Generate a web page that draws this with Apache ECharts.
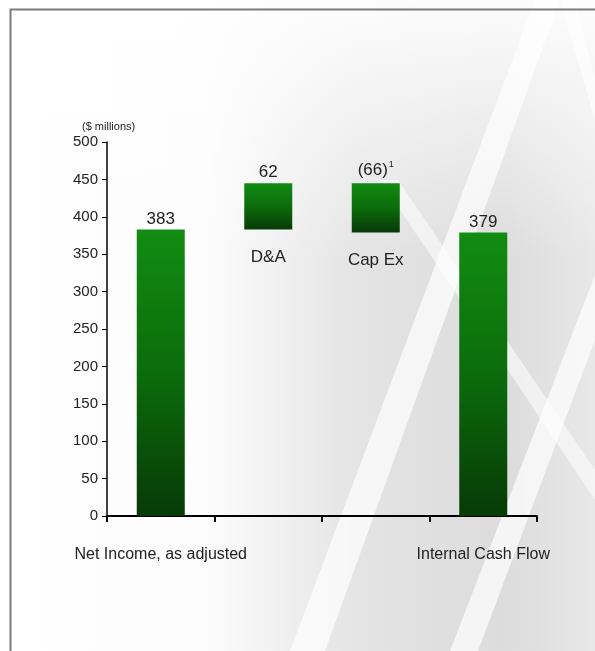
<!DOCTYPE html>
<html>
<head>
<meta charset="utf-8">
<script src="https://cdn.jsdelivr.net/npm/echarts@6/dist/echarts.min.js"></script>
<style>
html,body{margin:0;padding:0;background:#fff;}
#c{width:595px;height:651px;}
</style>
</head>
<body>
<div id="c"></div>
<script>
var categories = ['Net Income, as adjusted', 'D&A', 'Cap Ex', 'Internal Cash Flow'];
var values = [383, 62, -66, 379];
var valueLabels = ['383', '62', '(66)', '379'];
var footnotes = ['', '', '1', ''];
var floatLabels = ['', 'D&A', 'Cap Ex', ''];
var yTicks = [0, 50, 100, 150, 200, 250, 300, 350, 400, 450, 500];

// waterfall: compute invisible base and visible height
var running = 0, baseData = [], barData = [];
values.forEach(function (v, i) {
  if (i === 0 || i === values.length - 1) {
    baseData.push(0); barData.push(Math.abs(v)); running = v;
  } else if (v >= 0) {
    baseData.push(running); barData.push(v); running += v;
  } else {
    running += v; baseData.push(running); barData.push(-v);
  }
});

var FONT = 'Liberation Sans, Arial, sans-serif';
var chart = echarts.init(document.getElementById('c'), null, {renderer: 'canvas'});

var grad = new echarts.graphic.LinearGradient(0, 0, 0, 1, [
  {offset: 0, color: '#128c12'},
  {offset: 0.5, color: '#0b6c0b'},
  {offset: 1, color: '#073a07'}
]);

chart.setOption({
  animation: false,
  backgroundColor: '#ffffff',
  graphic: [
    {type: 'rect', z: -10, shape: {x: 0, y: 0, width: 595, height: 651},
      style: {fill: new echarts.graphic.LinearGradient(0, 0, 1, 0, [
        {offset: 0, color: '#ffffff'}, {offset: 0.35, color: '#fcfcfc'},
        {offset: 0.6, color: '#e4e4e4'}, {offset: 0.85, color: '#dcdcdc'}, {offset: 1, color: '#e8e8e8'}])}},
    {type: 'rect', z: -9, shape: {x: 0, y: 0, width: 595, height: 260},
      style: {fill: new echarts.graphic.LinearGradient(0, 0, 0, 1, [
        {offset: 0, color: 'rgba(255,255,255,0.9)'}, {offset: 1, color: 'rgba(255,255,255,0)'}])}},
    {type: 'polygon', z: -8, shape: {points: [[290, 651], [325, 651], [560, 0], [535, 0]]}, style: {fill: 'rgba(255,255,255,0.7)'}},
    {type: 'polygon', z: -8, shape: {points: [[450, 651], [478, 651], [595, 340], [595, 275]]}, style: {fill: 'rgba(255,255,255,0.7)'}},
    {type: 'polygon', z: -8, shape: {points: [[380, 180], [398, 180], [595, 470], [595, 500]]}, style: {fill: 'rgba(255,255,255,0.55)'}},
    {type: 'polygon', z: -8, shape: {points: [[560, 0], [575, 0], [595, 80], [595, 120]]}, style: {fill: 'rgba(255,255,255,0.6)'}},
    {type: 'polyline', z: 5, shape: {points: [[10.5, 651], [10.5, 9.5], [595, 9.5]]}, style: {stroke: '#7a7a7a', lineWidth: 2, fill: null}},
    {type: 'text', z: 5, left: 82, top: 121, style: {text: '($ millions)', font: '11px ' + FONT, fill: '#222'}}
  ],
  grid: {left: 107, right: 58, top: 142, bottom: 135},
  xAxis: {
    type: 'category',
    data: categories,
    axisLine: {lineStyle: {color: '#000', width: 2}},
    axisTick: {show: true, length: 6, alignWithLabel: false, lineStyle: {color: '#000', width: 2}},
    axisLabel: {
      margin: 31, interval: 0, fontFamily: FONT, fontSize: 16, color: '#222',
      formatter: function (v, i) { return (i === 0 || i === categories.length - 1) ? v : ''; }
    }
  },
  yAxis: {
    type: 'value', min: 0, max: 500, interval: 50,
    splitLine: {show: false},
    axisLine: {show: true, lineStyle: {color: '#000', width: 1.5}},
    axisTick: {show: true, length: 5, lineStyle: {color: '#000'}},
    axisLabel: {fontFamily: FONT, fontSize: 15, color: '#222', margin: 9,
      formatter: function (v) { return yTicks.indexOf(v) >= 0 ? String(v) : ''; }}
  },
  series: [
    {
      type: 'bar', stack: 'w', barWidth: 48, silent: true,
      itemStyle: {color: 'rgba(0,0,0,0)'},
      data: baseData,
      label: {
        show: true, position: 'insideTop', distance: 19,
        fontFamily: FONT, fontSize: 17, color: '#222',
        formatter: function (p) { return floatLabels[p.dataIndex]; }
      }
    },
    {
      type: 'bar', stack: 'w', barWidth: 48,
      itemStyle: {color: grad},
      data: barData,
      label: {
        show: true, position: 'top', distance: 2,
        fontFamily: FONT, fontSize: 17, color: '#222',
        formatter: function (p) {
          var f = footnotes[p.dataIndex];
          return valueLabels[p.dataIndex] + (f ? '{sup|' + f + '}' : '');
        },
        rich: {sup: {fontSize: 9, verticalAlign: 'top', padding: [0, 0, 12, 1], fontFamily: FONT, color: '#222'}}
      }
    }
  ]
});
</script>
</body>
</html>
